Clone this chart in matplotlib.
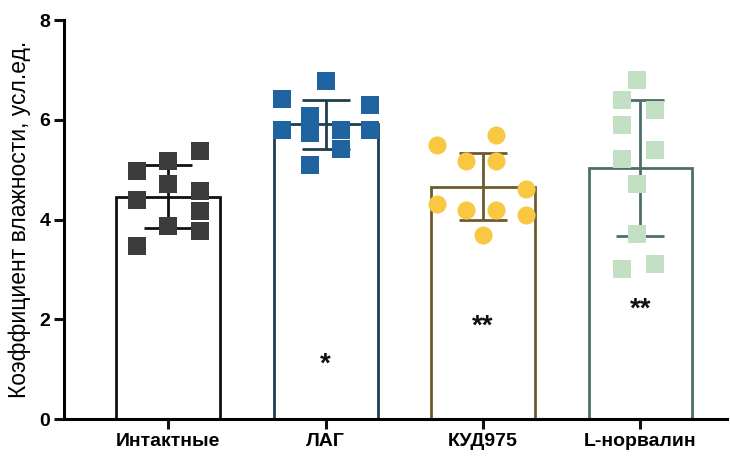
import numpy as np
import matplotlib.pyplot as plt

plt.rcParams['font.family'] = ['Liberation Sans', 'DejaVu Sans']

groups = ['Интактные', 'ЛАГ', 'КУД975', 'L-норвалин']

# individual animals: x-jitter inside the group and measured value
intact_dx = [-0.2, 0.0, 0.2, 0.0, -0.2, 0.2, 0.2, 0.0, 0.2, -0.2]
intact_y = [4.98, 5.18, 5.38, 4.72, 4.40, 4.58, 4.18, 3.88, 3.78, 3.48]

lag_dx = [0.0, -0.28, 0.28, -0.1, -0.1, -0.28, 0.1, 0.28, 0.1, -0.1]
lag_y = [6.77, 6.41, 6.29, 6.07, 5.73, 5.79, 5.79, 5.79, 5.41, 5.09]

kud_dx = [-0.29, 0.08, -0.11, 0.08, 0.27, -0.29, -0.11, 0.08, 0.27, 0.0]
kud_y = [5.49, 5.69, 5.17, 5.17, 4.61, 4.31, 4.19, 4.19, 4.09, 3.69]

norv_dx = [-0.02, -0.12, 0.09, -0.12, 0.09, -0.12, -0.02, -0.02, 0.09, -0.12]
norv_y = [6.79, 6.39, 6.19, 5.89, 5.39, 5.21, 4.71, 3.71, 3.11, 3.01]

signif = ['', '*', '**', '**']
signif_y = [0, 1.1, 1.85, 2.2]

dxs = [intact_dx, lag_dx, kud_dx, norv_dx]
ys = [intact_y, lag_y, kud_y, norv_y]
markers = ['s', 's', 'o', 's']
face = ['#3b3b3b', '#1f63a0', '#f8c843', '#c3dfc4']
edge = ['#111111', '#1f3d4f', '#6f5a2c', '#4d6f69']

fig = plt.figure(figsize=(7.3, 4.57), dpi=100)
ax = fig.add_axes([0.088, 0.083, 0.908, 0.873])

x = np.arange(len(groups))
means = [np.mean(v) for v in ys]
sds = [np.std(v, ddof=1) for v in ys]

for i in range(len(groups)):
    ax.bar(x[i], means[i], width=0.66, color='white', edgecolor=edge[i],
           linewidth=2.0, zorder=1)
    ax.errorbar(x[i], means[i], yerr=sds[i], color=edge[i], elinewidth=2.0,
                capsize=17, capthick=2.0, zorder=2)
    ax.scatter(x[i] + np.array(dxs[i]), ys[i], marker=markers[i],
               s=150 if markers[i] == 's' else 170, color=face[i],
               linewidths=0, zorder=3)
    if signif[i]:
        ax.text(x[i], signif_y[i], signif[i], ha='center', va='center',
                fontsize=20, fontweight='bold', color='#111111', zorder=4)

ax.set_xlim(-0.66, 3.55)
ax.set_ylim(0, 8)
ax.set_xticks(x)
ax.set_xticklabels(groups, fontsize=14, fontweight='bold')
ax.set_yticks([0, 2, 4, 6, 8])
ax.set_yticklabels(['0', '2', '4', '6', '8'], fontsize=14, fontweight='bold')
ax.set_ylabel('Коэффициент влажности, усл.ед.', fontsize=16.5, labelpad=6)

for s in ['top', 'right']:
    ax.spines[s].set_visible(False)
for s in ['left', 'bottom']:
    ax.spines[s].set_linewidth(2.2)
ax.tick_params(width=2.2, length=7, color='#111111', pad=3)

fig.savefig('out.png', dpi=100)
